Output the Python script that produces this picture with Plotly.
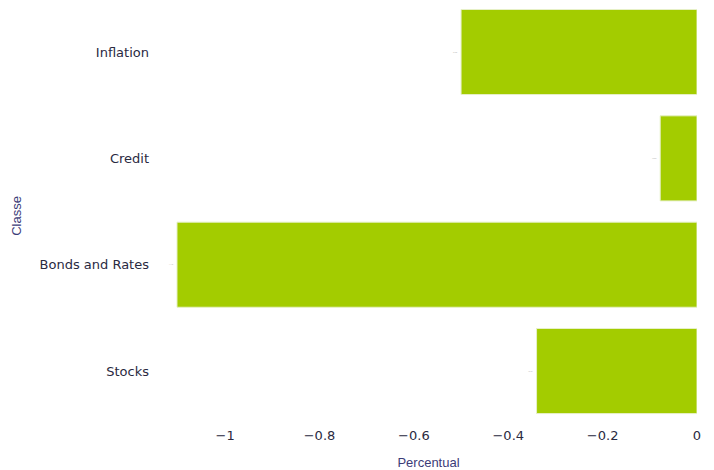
import plotly.graph_objects as go

categories = ["Stocks", "Bonds and Rates", "Credit", "Inflation"]
values = [-0.34, -1.102, -0.078, -0.5]

fig = go.Figure(go.Bar(
    x=values,
    y=categories,
    orientation="h",
    marker=dict(color="#a3cc00", line=dict(color="#e6f0c8", width=1)),
    text=[f"{v:.2f}" for v in values],
    textposition="outside",
    textfont=dict(size=2, color="#aaaaaa"),
    cliponaxis=False,
))

fig.update_layout(
    width=706, height=462,
    margin=dict(l=152, r=17, t=0, b=46),
    plot_bgcolor="white", paper_bgcolor="white",
    bargap=0.2,
    showlegend=False,
    xaxis=dict(
        range=[-1.138, 0],
        tickvals=[-1, -0.8, -0.6, -0.4, -0.2, 0],
        ticktext=["\u22121", "\u22120.8", "\u22120.6", "\u22120.4", "\u22120.2", "0"],
        showgrid=False, zeroline=False, showline=False,
        ticklabelstandoff=2,
        tickfont=dict(family="DejaVu Sans", size=13, color="#2a2a3f"),
        title=dict(text="Percentual", font=dict(family="Liberation Sans", size=13, color="#3c3c78"), standoff=17),
    ),
    yaxis=dict(
        categoryorder="array", categoryarray=categories,
        range=[-0.498, 3.414],
        showgrid=False, zeroline=False, showline=False,
        ticks="",
        ticklabelstandoff=10,
        tickfont=dict(family="DejaVu Sans", size=13, color="#2a2a3f"),
        title=dict(text="Classe", font=dict(family="Liberation Sans", size=13, color="#3c3c78"), standoff=14),
    ),
)

fig.write_html("out.html")
